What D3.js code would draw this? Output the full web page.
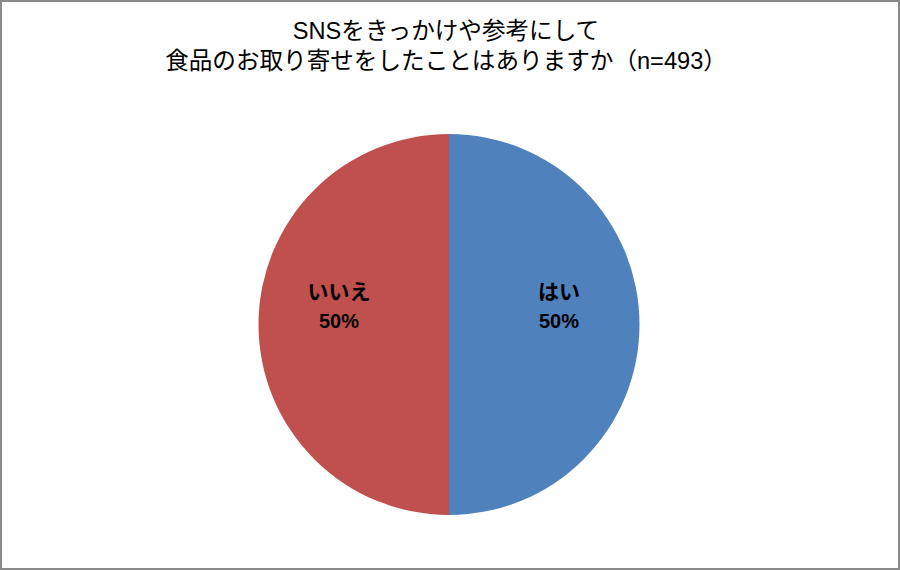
<!DOCTYPE html>
<html>
<head>
<meta charset="utf-8">
<script src="https://cdn.jsdelivr.net/npm/d3@7"></script>
<style>
  html, body { margin: 0; padding: 0; background: #fff; }
  svg { display: block; }
</style>
</head>
<body>
<svg id="chart" width="900" height="570"></svg>
<script>
const titleLines = ["SNSをきっかけや参考にして", "食品のお取り寄せをしたことはありますか（n=493）"];
const categories = ["はい", "いいえ"];
const values = [50, 50];
const colors = ["#4F81BD", "#C0504D"];

const W = 900, H = 570;
const svg = d3.select("#chart");
const font = "'Liberation Sans', Arial, 'Noto Sans CJK JP', sans-serif";

svg.append("rect")
  .attr("x", 1).attr("y", 1).attr("width", W - 2).attr("height", H - 2)
  .attr("fill", "#fff").attr("stroke", "#8a8a8a").attr("stroke-width", 2);

svg.append("g").selectAll("text").data(titleLines).join("text")
  .attr("x", 446).attr("y", (d, i) => 39 + i * 30)
  .attr("text-anchor", "middle")
  .attr("font-family", font).attr("font-size", 23.6)
  .attr("fill", "#000")
  .text(d => d);

const cx = 449, cy = 324.5, r = 190.5;
const data = categories.map((c, i) => ({ cat: c, value: values[i], color: colors[i] }));
const pie = d3.pie().value(d => d.value).sort(null);
const arc = d3.arc().innerRadius(0).outerRadius(r);
const labelArc = d3.arc().innerRadius(110).outerRadius(110);
const total = d3.sum(values);

const g = svg.append("g").attr("transform", `translate(${cx},${cy})`);
const arcs = pie(data);
g.selectAll("path").data(arcs).join("path")
  .attr("d", arc)
  .attr("fill", d => d.data.color);

const lbl = g.selectAll("g.lbl").data(arcs).join("g").attr("class", "lbl")
  .attr("transform", d => { const [x, y] = labelArc.centroid(d); return `translate(${x},${y})`; });
lbl.append("text")
  .attr("y", -26).attr("text-anchor", "middle")
  .attr("font-family", "'Noto Sans CJK JP', sans-serif").attr("font-size", 21).attr("font-weight", "bold")
  .attr("fill", "#000")
  .text(d => d.data.cat);
lbl.append("text")
  .attr("y", 3).attr("text-anchor", "middle")
  .attr("font-family", font).attr("font-size", 20).attr("font-weight", "bold")
  .attr("fill", "#000")
  .text(d => Math.round(d.data.value / total * 100) + "%");
</script>
</body>
</html>
